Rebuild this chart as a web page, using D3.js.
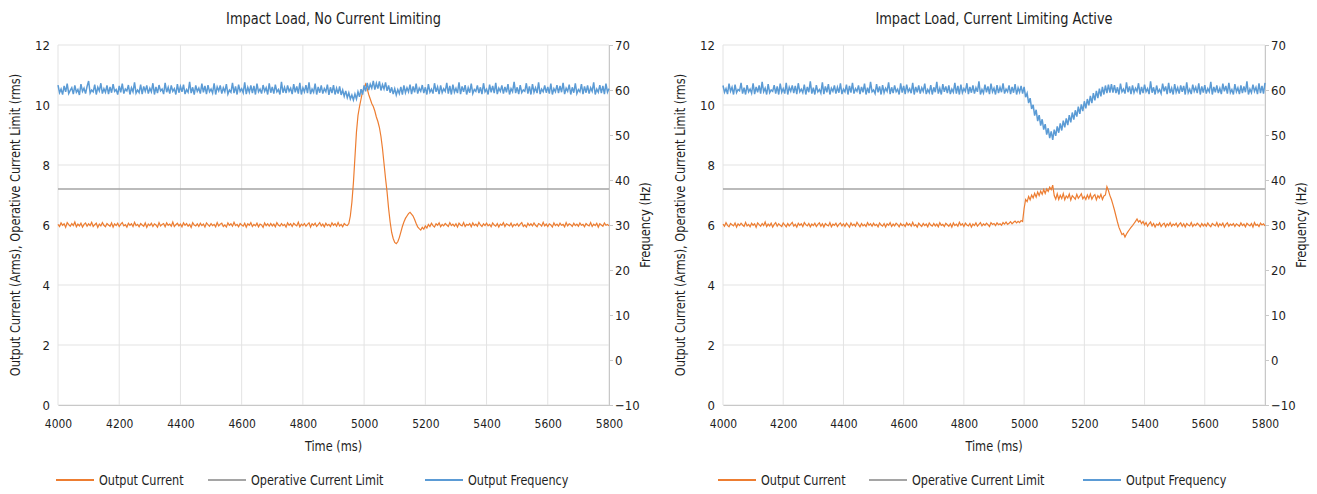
<!DOCTYPE html>
<html>
<head>
<meta charset="utf-8">
<script src="https://cdn.jsdelivr.net/npm/d3@7"></script>
<style>
  body { margin: 0; background: #fff; }
  text { font-family: "DejaVu Sans Condensed", "DejaVu Sans", sans-serif; font-stretch: condensed; fill: #1e1e1e; }
</style>
</head>
<body>
<div id="chart"></div>
<script>
// sample times (ms), one sample every 5 ms
const time = d3.range(4000, 5801, 5);

const currentLimit = 7.2;

// left panel: no current limiting (one row = 100 ms)
const currentLeft = [
  6.02, 5.95, 6.07, 5.99, 6.04, 5.92, 6.08, 6.01, 5.96, 6.05, 5.98, 6.10, 5.94, 6.03, 5.97, 6.06, 5.93, 6.02, 6.07, 5.96,
  6.04, 5.98, 6.09, 5.95, 6.01, 6.06, 5.92, 6.03, 5.97, 6.08, 5.99, 5.94, 6.05, 6.00, 5.96, 6.07, 5.93, 6.04, 5.98, 6.06,
  5.95, 6.03, 6.08, 5.97, 6.01, 5.93, 6.06, 5.99, 6.04, 5.95, 6.09, 5.98, 6.02, 5.94, 6.05, 6.00, 5.96, 6.07, 5.92, 6.03,
  5.98, 6.06, 5.95, 6.04, 6.00, 5.93, 6.08, 5.97, 6.02, 6.05, 5.94, 6.07, 5.99, 6.03, 5.96, 6.10, 5.95, 6.01, 6.06, 5.97,
  6.03, 5.94, 6.07, 5.99, 6.05, 5.96, 6.02, 5.92, 6.08, 6.00, 5.97, 6.04, 5.95, 6.06, 5.98, 6.03, 5.93, 6.07, 6.01, 5.96,
  6.05, 5.98, 6.02, 5.94, 6.08, 5.97, 6.03, 6.06, 5.95, 6.00, 5.93, 6.07, 5.99, 6.04, 5.96, 6.09, 5.98, 6.02, 5.94, 6.05,
  6.00, 5.96, 6.06, 5.93, 6.04, 5.99, 6.08, 5.95, 6.02, 5.97, 6.06, 5.94, 6.03, 6.00, 5.92, 6.07, 5.98, 6.04, 5.96, 6.05,
  5.97, 6.03, 5.94, 6.08, 6.00, 5.96, 6.05, 5.98, 6.02, 5.93, 6.07, 5.99, 6.04, 5.95, 6.06, 6.01, 5.97, 6.09, 5.94, 6.03,
  5.98, 6.05, 5.96, 6.02, 6.07, 5.93, 6.04, 5.99, 6.06, 5.95, 6.01, 6.08, 5.97, 6.03, 5.94, 6.06, 5.98, 6.02, 5.95, 6.07,
  5.99, 6.04, 5.96, 6.08, 5.97, 6.02, 5.94, 6.05, 6.00, 5.98, 6.05, 6.30, 6.75, 7.40, 8.25, 9.10, 9.65, 9.95, 10.20, 10.45,
  10.55, 10.70, 10.55, 10.35, 10.20, 10.05, 9.95, 9.80, 9.60, 9.45, 9.25, 8.95, 8.55, 8.05, 7.55, 7.10, 6.55, 6.10, 5.75, 5.55,
  5.42, 5.38, 5.44, 5.58, 5.76, 5.95, 6.10, 6.22, 6.30, 6.38, 6.42, 6.36, 6.30, 6.18, 6.05, 5.94, 5.88, 5.83, 5.92, 5.86,
  5.97, 5.90, 6.02, 5.95, 6.06, 5.98, 5.93, 6.04, 5.99, 6.07, 5.94, 6.02, 5.97, 6.05, 6.00, 5.95, 6.08, 5.98, 6.03, 5.96,
  6.04, 5.93, 6.06, 6.00, 5.97, 6.08, 5.95, 6.02, 5.99, 6.05, 5.94, 6.07, 5.98, 6.03, 5.96, 6.09, 6.00, 5.95, 6.04, 5.98,
  6.06, 5.97, 6.02, 5.94, 6.07, 6.00, 5.96, 6.05, 5.93, 6.03, 5.99, 6.08, 5.95, 6.04, 6.01, 5.97, 6.06, 5.94, 6.02, 5.98,
  6.05, 5.96, 6.03, 6.08, 5.95, 6.00, 5.93, 6.06, 5.98, 6.04, 5.97, 6.07, 5.99, 5.94, 6.05, 6.02, 5.96, 6.09, 5.97, 6.03,
  5.95, 6.04, 6.00, 5.93, 6.07, 5.98, 6.03, 5.96, 6.06, 5.99, 6.02, 5.94, 6.08, 5.97, 6.04, 6.01, 5.95, 6.06, 5.98, 6.03,
  5.96, 6.07, 5.99, 6.02, 5.94, 6.05, 6.00, 5.97, 6.08, 5.95, 6.03, 5.98, 6.06, 5.93, 6.04, 6.00, 5.96, 6.07, 5.99, 6.02,
  5.97
];
const freqLeft = [
  61.1, 59.4, 60.2, 59.0, 60.9, 59.6, 61.4, 59.2, 59.9, 60.5, 59.1, 61.0, 59.5, 60.1, 58.9, 61.3, 59.7, 60.4, 59.2, 60.8,
  62.0, 59.3, 60.0, 59.6, 61.2, 59.0, 60.6, 59.8, 61.5, 59.2, 60.3, 59.5, 61.0, 59.1, 60.7, 59.4, 61.3, 59.7, 60.1, 59.0,
  60.9, 59.5, 61.4, 59.2, 60.2, 59.8, 61.1, 59.0, 60.5, 59.6, 61.7, 59.3, 60.0, 59.4, 61.2, 59.1, 60.8, 59.7, 61.0, 59.2,
  60.4, 59.6, 61.5, 59.0, 60.7, 59.3, 61.1, 59.8, 60.2, 59.1, 61.6, 59.5, 60.6, 59.2, 61.0, 59.7, 60.3, 59.0, 61.3, 59.4,
  60.8, 59.6, 61.2, 59.1, 60.1, 59.5, 61.8, 59.3, 60.6, 59.0, 61.0, 59.7, 60.4, 59.2, 61.4, 59.5, 60.9, 59.1, 61.1, 59.6,
  60.2, 59.3, 61.5, 59.0, 60.7, 59.8, 61.0, 59.2, 60.5, 59.6, 61.3, 59.1, 60.0, 59.5, 61.6, 59.3, 60.8, 59.0, 61.2, 59.7,
  60.3, 59.4, 61.7, 59.1, 60.6, 59.5, 61.0, 59.3, 60.9, 59.0, 61.4, 59.6, 60.2, 59.2, 61.1, 59.7, 60.5, 59.0, 61.5, 59.4,
  60.7, 59.2, 61.2, 59.6, 60.1, 59.0, 61.8, 59.4, 60.6, 59.3, 61.0, 59.7, 60.4, 59.1, 61.3, 59.5, 60.8, 59.2, 61.6, 59.0,
  60.5, 59.6, 61.1, 59.3, 61.7, 59.1, 60.2, 59.5, 61.4, 59.0, 60.7, 59.4, 61.0, 59.2, 60.3, 59.6, 61.2, 58.9, 60.6, 59.3,
  61.1, 59.0, 60.4, 59.2, 60.8, 58.9, 60.0, 58.6, 59.8, 58.3, 59.4, 58.0, 58.9, 57.8, 59.1, 58.0, 59.6, 58.5, 60.2, 59.0,
  61.0, 59.7, 61.6, 60.0, 61.3, 60.4, 62.0, 60.1, 61.5, 60.3, 61.9, 59.9, 61.2, 60.2, 61.7, 59.8, 61.0, 59.4, 60.6, 59.1,
  60.3, 58.9, 60.1, 59.2, 60.7, 59.0, 61.0, 59.4, 60.5, 59.6, 61.2, 59.1, 60.8, 59.5, 61.4, 59.2, 60.4, 59.7, 61.1, 59.3,
  60.6, 59.0, 61.3, 59.5, 60.2, 59.2, 61.5, 59.6, 60.7, 59.1, 61.0, 59.4, 60.3, 59.7, 61.6, 59.2, 60.9, 59.0, 61.2, 59.5,
  60.4, 59.3, 61.7, 59.1, 60.8, 59.6, 61.1, 59.0, 60.5, 59.4, 61.4, 59.2, 60.1, 59.7, 61.0, 59.3, 60.6, 59.1, 61.5, 59.6,
  60.2, 59.0, 61.2, 59.5, 60.9, 59.3, 61.6, 59.1, 60.4, 59.7, 61.0, 59.2, 60.7, 59.5, 61.3, 59.0, 60.3, 59.6, 61.8, 59.3,
  60.6, 59.1, 61.1, 59.4, 60.0, 59.7, 61.5, 59.2, 60.8, 59.0, 61.3, 59.5, 60.5, 59.3, 61.7, 59.1, 60.2, 59.6, 61.0, 59.4,
  60.7, 59.2, 61.4, 59.0, 60.3, 59.6, 61.1, 59.3, 60.9, 59.5, 61.6, 59.1, 60.4, 59.7, 61.2, 59.0, 60.6, 59.4, 61.5, 59.2,
  60.1, 59.6, 61.3, 59.1, 60.8, 59.4, 61.0, 59.2, 60.5, 59.7, 61.7, 59.0, 60.2, 59.5, 61.1, 59.3, 60.9, 59.1, 61.4, 59.5,
  60.3
];

// right panel: current limiting active
const currentRight = [
  6.03, 5.96, 6.08, 5.99, 5.94, 6.05, 6.01, 5.97, 6.07, 5.93, 6.04, 5.98, 6.06, 6.00, 5.95, 6.09, 5.97, 6.02, 5.94, 6.06,
  5.99, 6.04, 5.92, 6.07, 6.01, 5.96, 6.05, 5.98, 6.10, 5.95, 6.03, 5.97, 6.06, 5.93, 6.02, 6.08, 5.96, 6.04, 5.99, 5.95,
  6.07, 6.00, 5.94, 6.05, 5.97, 6.03, 6.09, 5.96, 6.02, 5.93, 6.06, 5.99, 6.04, 5.95, 6.08, 6.01, 5.97, 6.05, 5.94, 6.03,
  5.98, 6.06, 5.95, 6.02, 6.07, 5.96, 6.04, 5.93, 6.05, 6.00, 5.97, 6.08, 5.94, 6.03, 5.99, 6.06, 5.95, 6.02, 6.07, 5.97,
  6.04, 5.95, 6.06, 6.00, 5.93, 6.07, 5.98, 6.03, 5.96, 6.09, 6.01, 5.94, 6.05, 5.97, 6.02, 5.95, 6.08, 5.99, 6.04, 5.96,
  6.06, 5.98, 6.02, 5.94, 6.07, 6.00, 5.96, 6.05, 5.93, 6.04, 5.99, 6.08, 5.95, 6.03, 5.97, 6.06, 6.01, 5.94, 6.05, 5.98,
  6.02, 5.95, 6.07, 5.99, 6.04, 5.96, 6.09, 5.97, 6.01, 5.93, 6.06, 6.00, 5.95, 6.05, 5.98, 6.03, 5.94, 6.07, 6.00, 5.96,
  6.05, 5.97, 6.03, 5.94, 6.08, 5.99, 6.02, 5.95, 6.06, 6.01, 5.96, 6.04, 5.93, 6.07, 5.98, 6.03, 5.96, 6.09, 5.99, 6.04,
  5.95, 6.06, 6.00, 5.97, 6.05, 5.93, 6.03, 5.98, 6.07, 5.96, 6.02, 6.08, 5.97, 6.04, 5.99, 6.06, 6.01, 5.95, 6.08, 6.02,
  6.05, 5.98, 6.07, 6.01, 6.04, 5.99, 6.08, 6.03, 6.10, 6.02, 6.06, 6.11, 6.04, 6.09, 6.13, 6.07, 6.12, 6.08, 6.15, 6.12,
  6.55, 6.85, 6.78, 6.95, 6.84, 7.00, 6.90, 7.06, 6.93, 7.10, 6.98, 7.13, 7.02, 7.18, 7.05, 7.20, 7.12, 7.26, 7.18, 7.33,
  6.98, 6.86, 7.04, 6.85, 6.99, 6.88, 7.05, 6.84, 6.97, 6.90, 7.03, 6.83, 6.98, 6.92, 6.86, 7.02, 6.89, 6.96, 7.04, 6.87,
  6.95, 6.85, 7.00, 6.88, 7.03, 6.86, 6.96, 7.01, 6.84, 6.98, 6.90, 7.02, 6.85, 6.97, 7.00, 7.28, 7.15, 6.98, 6.85, 6.68,
  6.50, 6.30, 6.10, 5.92, 5.80, 5.68, 5.72, 5.60, 5.70, 5.78, 5.85, 5.92, 5.98, 6.05, 6.12, 6.20, 6.10, 6.15, 6.05, 6.12,
  6.00, 6.08, 5.96, 6.04, 6.10, 5.97, 6.05, 5.93, 6.03, 5.99, 6.07, 5.95, 6.02, 6.06, 5.94, 6.04, 5.98, 6.08, 5.96, 6.03,
  5.99, 6.06, 5.94, 6.02, 6.07, 5.96, 6.04, 5.93, 6.05, 6.00, 5.97, 6.08, 5.95, 6.03, 5.98, 6.06, 6.01, 5.94, 6.05, 5.97,
  6.03, 5.96, 6.07, 5.99, 5.94, 6.05, 6.01, 5.97, 6.08, 5.95, 6.04, 5.98, 6.06, 5.93, 6.02, 6.07, 5.96, 6.03, 5.99, 6.05,
  5.95, 6.04, 6.00, 5.96, 6.07, 5.98, 6.03, 5.94, 6.06, 6.01, 5.97, 6.05, 5.93, 6.08, 5.99, 6.02, 5.95, 6.06, 6.00, 6.04,
  5.97
];
const freqRight = [
  61.0, 59.5, 60.3, 59.1, 61.4, 59.7, 60.6, 59.0, 61.2, 59.4, 60.1, 59.8, 61.6, 59.2, 60.5, 59.0, 61.1, 59.6, 60.2, 59.3,
  61.5, 59.1, 60.7, 59.5, 61.0, 59.2, 61.8, 59.6, 60.4, 59.0, 61.3, 59.4, 60.0, 59.7, 61.1, 59.2, 60.8, 59.0, 61.4, 59.5,
  60.3, 59.2, 61.6, 59.0, 60.6, 59.7, 61.0, 59.3, 60.9, 59.1, 61.5, 59.6, 60.2, 59.4, 61.2, 59.0, 60.7, 59.5, 61.9, 59.2,
  60.5, 59.0, 61.1, 59.6, 60.1, 59.3, 61.7, 59.1, 60.8, 59.5, 61.3, 59.0, 60.4, 59.7, 61.0, 59.2, 60.6, 59.4, 61.5, 59.1,
  60.2, 59.6, 61.2, 59.0, 60.9, 59.4, 61.6, 59.2, 60.3, 59.7, 61.0, 59.1, 60.7, 59.5, 61.4, 59.0, 60.5, 59.3, 61.8, 59.6,
  60.0, 59.2, 61.3, 59.5, 60.8, 59.0, 61.1, 59.4, 60.4, 59.7, 61.7, 59.1, 60.6, 59.3, 61.0, 59.6, 60.2, 59.0, 61.5, 59.4,
  60.9, 59.1, 61.2, 59.6, 60.3, 59.3, 61.6, 59.0, 60.7, 59.5, 61.0, 59.2, 60.5, 59.7, 61.4, 59.1, 60.1, 59.4, 61.1, 59.0,
  60.6, 59.5, 61.8, 59.2, 60.4, 59.0, 61.3, 59.6, 60.8, 59.3, 61.0, 59.1, 60.2, 59.5, 61.6, 59.2, 60.9, 59.0, 61.2, 59.4,
  60.3, 59.7, 61.5, 59.1, 60.7, 59.4, 61.0, 59.2, 60.5, 59.6, 61.9, 59.0, 60.1, 59.3, 61.2, 59.5, 60.8, 59.1, 61.4, 59.6,
  60.4, 59.0, 61.1, 59.3, 60.6, 59.5, 61.5, 59.2, 60.2, 59.6, 61.0, 59.1, 60.7, 59.4, 61.3, 59.0, 60.5, 59.5, 60.9, 59.2,
  60.7, 58.4, 59.3, 57.1, 58.2, 55.8, 56.7, 54.3, 55.6, 53.1, 54.4, 52.1, 53.5, 51.2, 52.4, 50.1, 51.5, 49.3, 50.8, 48.9,
  51.2, 49.8, 51.9, 50.5, 52.6, 51.0, 53.2, 51.7, 53.7, 52.2, 54.4, 52.8, 55.0, 53.4, 55.5, 54.1, 56.3, 54.7, 56.8, 55.3,
  57.5, 55.9, 58.0, 56.6, 58.7, 57.1, 59.3, 57.7, 59.8, 58.2, 60.3, 58.6, 60.7, 59.0, 61.0, 59.3, 61.2, 59.4, 61.3, 59.4,
  61.1, 59.3, 60.6, 59.0, 61.4, 59.6, 60.2, 59.2, 61.7, 59.5, 60.8, 59.1, 61.0, 59.4, 60.4, 59.7, 61.5, 59.0, 60.7, 59.3,
  61.2, 59.6, 60.3, 59.1, 61.9, 59.4, 60.6, 59.0, 61.0, 59.5, 60.1, 59.2, 61.4, 59.7, 60.8, 59.1, 61.6, 59.3, 60.4, 59.0,
  61.3, 59.5, 60.5, 59.2, 61.0, 59.6, 60.9, 59.0, 61.7, 59.4, 60.2, 59.1, 61.2, 59.7, 60.6, 59.3, 61.5, 59.0, 60.8, 59.4,
  61.1, 59.2, 60.3, 59.6, 61.8, 59.0, 60.7, 59.5, 61.0, 59.3, 60.4, 59.1, 61.4, 59.7, 60.9, 59.2, 61.6, 59.4, 60.1, 59.0,
  61.3, 59.6, 60.5, 59.1, 61.0, 59.3, 60.8, 59.5, 61.9, 59.0, 60.2, 59.4, 61.2, 59.7, 60.6, 59.1, 61.5, 59.3, 60.9, 59.2,
  61.6
];

const xTicks = [4000, 4200, 4400, 4600, 4800, 5000, 5200, 5400, 5600, 5800];
const yTicks = [0, 2, 4, 6, 8, 10, 12];
const fTicks = [-10, 0, 10, 20, 30, 40, 50, 60, 70];
const legendNames = ["Output Current", "Operative Current Limit", "Output Frequency"];

const colors = { current: "#ED7D31", limit: "#A5A5A5", freq: "#5B9BD5" };

const width = 1317, height = 494;
const svg = d3.select("#chart").append("svg")
    .attr("width", width)
    .attr("height", height);

// squeeze text horizontally to mimic a condensed face
function squeeze(sel, k) {
    sel.each(function () {
        const w = this.getComputedTextLength();
        d3.select(this).attr("textLength", w * k).attr("lengthAdjust", "spacingAndGlyphs");
    });
}

function drawPanel(opts) {
    const { left, right, title, current, freq, legendX } = opts;
    const top = 45, bottom = 405;

    const x = d3.scaleLinear().domain([4000, 5800]).range([left, right]);
    const y = d3.scaleLinear().domain([0, 12]).range([bottom, top]);
    const yf = d3.scaleLinear().domain([-10, 70]).range([bottom, top]);

    const g = svg.append("g");

    // gridlines
    g.append("g").selectAll("line")
        .data(yTicks)
        .join("line")
            .attr("x1", left).attr("x2", right)
            .attr("y1", d => y(d)).attr("y2", d => y(d))
            .attr("stroke", "#e3e3e3");
    g.append("g").selectAll("line")
        .data(xTicks)
        .join("line")
            .attr("x1", d => x(d)).attr("x2", d => x(d))
            .attr("y1", top).attr("y2", bottom)
            .attr("stroke", "#e3e3e3");

    // axes
    g.append("g")
        .attr("transform", `translate(0,${bottom})`)
        .call(d3.axisBottom(x).tickValues(xTicks).tickFormat(d3.format("d")).tickSize(0).tickPadding(14))
        .call(g => g.select(".domain").attr("stroke", "#c8c8c8"))
        .selectAll("text").style("font-size", "13px").call(squeeze, 0.92);

    g.append("g")
        .attr("transform", `translate(${left},0)`)
        .call(d3.axisLeft(y).tickValues(yTicks).tickSize(0).tickPadding(8))
        .call(g => g.select(".domain").remove())
        .selectAll("text").style("font-size", "13px");

    g.append("g")
        .attr("transform", `translate(${right},0)`)
        .call(d3.axisRight(yf).tickValues(fTicks).tickSize(4).tickSizeOuter(0).tickPadding(2))
        .call(g => g.selectAll("line, .domain").attr("stroke", "#c8c8c8"))
        .selectAll("text").style("font-size", "13px");

    // series
    const line = d3.line().x((d, i) => x(time[i]));

    g.append("line")
        .attr("x1", x(4000)).attr("x2", x(5800))
        .attr("y1", y(currentLimit)).attr("y2", y(currentLimit))
        .attr("stroke", colors.limit)
        .attr("stroke-width", 1.5);

    g.append("path")
        .datum(current)
        .attr("fill", "none")
        .attr("stroke", colors.current)
        .attr("stroke-width", 1.2)
        .attr("d", line.y(d => y(d)));

    g.append("path")
        .datum(freq)
        .attr("fill", "none")
        .attr("stroke", colors.freq)
        .attr("stroke-width", 1.5)
        .attr("d", line.y(d => yf(d)));

    // titles
    const mid = (left + right) / 2;
    g.append("text")
        .attr("x", mid).attr("y", 24)
        .attr("text-anchor", "middle")
        .style("font-size", "16px")
        .text(title)
        .call(squeeze, 0.9);

    g.append("text")
        .attr("x", mid).attr("y", 451)
        .attr("text-anchor", "middle")
        .style("font-size", "14.5px")
        .text("Time (ms)")
        .call(squeeze, 0.87);

    g.append("text")
        .attr("transform", `translate(${left - 38},${(top + bottom) / 2}) rotate(-90)`)
        .attr("text-anchor", "middle")
        .style("font-size", "14.5px")
        .text("Output Current (Arms), Operative Current Limit (rms)")
        .call(squeeze, 0.87);

    g.append("text")
        .attr("transform", `translate(${right + 41},${(top + bottom) / 2}) rotate(-90)`)
        .attr("text-anchor", "middle")
        .style("font-size", "14.5px")
        .text("Frequency (Hz)")
        .call(squeeze, 0.87);

    // legend
    const legendColors = [colors.current, colors.limit, colors.freq];
    const lg = g.append("g").attr("transform", "translate(0,480)");
    legendNames.forEach((name, i) => {
        lg.append("line")
            .attr("x1", legendX[i]).attr("x2", legendX[i] + 38)
            .attr("stroke", legendColors[i])
            .attr("stroke-width", 2.2);
        lg.append("text")
            .attr("x", legendX[i] + 43).attr("dy", "0.35em")
            .style("font-size", "14.5px")
            .text(name)
            .call(squeeze, 0.86);
    });
}

drawPanel({ left: 58, right: 609, title: "Impact Load, No Current Limiting",
    current: currentLeft, freq: freqLeft, legendX: [56, 208, 425] });
drawPanel({ left: 723, right: 1265, title: "Impact Load, Current Limiting Active",
    current: currentRight, freq: freqRight, legendX: [718, 869, 1083] });
</script>
</body>
</html>
